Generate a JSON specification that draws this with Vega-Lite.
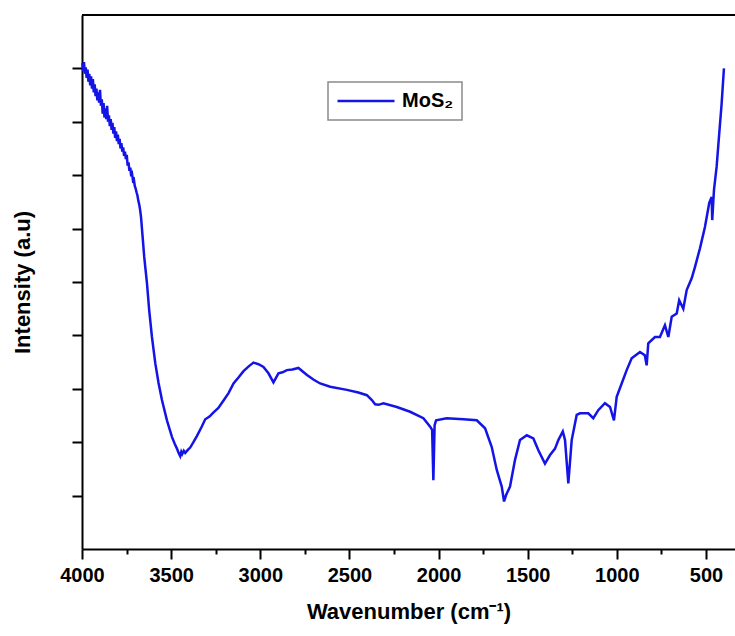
{
  "$schema": "https://vega.github.io/schema/vega-lite/v6.json",
  "width": 653,
  "height": 534,
  "autosize": {"type": "none"},
  "padding": {"left": 82, "top": 15, "right": 0, "bottom": 87},
  "background": "white",
  "config": {
    "view": {"stroke": null},
    "font": "Liberation Sans",
    "axis": {"domainColor": "black", "domainWidth": 2, "tickColor": "black", "tickWidth": 2, "grid": false,
      "labelFont": "Liberation Sans", "labelFontSize": 20, "labelFontWeight": "bold", "labelColor": "black",
      "titleFont": "Liberation Sans", "titleFontSize": 22, "titleFontWeight": "bold", "titleColor": "black"},
    "legend": {"orient": "none", "legendX": 246, "legendY": 67, "padding": 8, "strokeColor": "#8a8a8a", "strokeWidth": 1.5,
      "symbolType": "stroke", "symbolSize": 3249, "symbolStrokeWidth": 2.5, "clipHeight": 22, "labelFont": "Liberation Sans", "labelFontSize": 20,
      "labelFontWeight": "bold", "labelColor": "black", "labelOffset": 6, "title": null}
  },
  "data": {"values": [
    {"wn": 3998, "v": 9.10}, {"wn": 3993, "v": 8.95}, {"wn": 3989, "v": 9.12}, {"wn": 3984, "v": 8.90}, {"wn": 3979, "v": 9.02},
    {"wn": 3974, "v": 8.82}, {"wn": 3969, "v": 8.98}, {"wn": 3964, "v": 8.75}, {"wn": 3959, "v": 8.90}, {"wn": 3954, "v": 8.68},
    {"wn": 3949, "v": 8.85}, {"wn": 3944, "v": 8.62}, {"wn": 3939, "v": 8.80}, {"wn": 3934, "v": 8.55}, {"wn": 3929, "v": 8.70},
    {"wn": 3924, "v": 8.48}, {"wn": 3919, "v": 8.62}, {"wn": 3914, "v": 8.40}, {"wn": 3909, "v": 8.55}, {"wn": 3904, "v": 8.36},
    {"wn": 3899, "v": 8.60}, {"wn": 3894, "v": 8.30}, {"wn": 3889, "v": 8.42}, {"wn": 3884, "v": 8.15}, {"wn": 3879, "v": 8.35},
    {"wn": 3874, "v": 8.08}, {"wn": 3869, "v": 8.25}, {"wn": 3864, "v": 8.05}, {"wn": 3859, "v": 8.30}, {"wn": 3854, "v": 8.00},
    {"wn": 3849, "v": 8.12}, {"wn": 3844, "v": 7.92}, {"wn": 3839, "v": 8.05}, {"wn": 3834, "v": 7.85}, {"wn": 3829, "v": 7.98},
    {"wn": 3824, "v": 7.78}, {"wn": 3819, "v": 7.90}, {"wn": 3814, "v": 7.70}, {"wn": 3809, "v": 7.82}, {"wn": 3804, "v": 7.64},
    {"wn": 3799, "v": 7.76}, {"wn": 3794, "v": 7.58}, {"wn": 3789, "v": 7.68}, {"wn": 3784, "v": 7.50}, {"wn": 3779, "v": 7.60},
    {"wn": 3774, "v": 7.44}, {"wn": 3769, "v": 7.52}, {"wn": 3764, "v": 7.36}, {"wn": 3759, "v": 7.44}, {"wn": 3754, "v": 7.30},
    {"wn": 3749, "v": 7.38}, {"wn": 3744, "v": 7.18}, {"wn": 3739, "v": 7.24}, {"wn": 3734, "v": 7.08}, {"wn": 3729, "v": 7.14},
    {"wn": 3724, "v": 6.98}, {"wn": 3719, "v": 7.02}, {"wn": 3714, "v": 6.90}, {"wn": 3709, "v": 6.92}, {"wn": 3704, "v": 6.80},
    {"wn": 3699, "v": 6.75}, {"wn": 3694, "v": 6.68}, {"wn": 3689, "v": 6.62}, {"wn": 3684, "v": 6.52}, {"wn": 3679, "v": 6.45},
    {"wn": 3674, "v": 6.35}, {"wn": 3669, "v": 6.22}, {"wn": 3660, "v": 5.85},
    {"wn": 3651, "v": 5.47}, {"wn": 3635.6, "v": 4.98}, {"wn": 3623, "v": 4.47}, {"wn": 3607.6, "v": 3.97}, {"wn": 3589, "v": 3.48},
    {"wn": 3570.6, "v": 3.11}, {"wn": 3551.5, "v": 2.79}, {"wn": 3523.5, "v": 2.41}, {"wn": 3495.5, "v": 2.10}, {"wn": 3480, "v": 1.97},
    {"wn": 3467.4, "v": 1.88}, {"wn": 3458, "v": 1.80}, {"wn": 3449, "v": 1.74}, {"wn": 3443, "v": 1.82}, {"wn": 3437.7, "v": 1.78},
    {"wn": 3429, "v": 1.84}, {"wn": 3421, "v": 1.80}, {"wn": 3405, "v": 1.86}, {"wn": 3393, "v": 1.90}, {"wn": 3375, "v": 2.00},
    {"wn": 3355, "v": 2.12}, {"wn": 3330, "v": 2.28}, {"wn": 3308.6, "v": 2.43}, {"wn": 3285, "v": 2.48}, {"wn": 3262, "v": 2.56},
    {"wn": 3235, "v": 2.64}, {"wn": 3206, "v": 2.78}, {"wn": 3178, "v": 2.92}, {"wn": 3150, "v": 3.10}, {"wn": 3120, "v": 3.22},
    {"wn": 3094, "v": 3.33}, {"wn": 3065, "v": 3.42}, {"wn": 3038, "v": 3.49}, {"wn": 3010, "v": 3.46}, {"wn": 2982, "v": 3.41},
    {"wn": 2954, "v": 3.29}, {"wn": 2926, "v": 3.12}, {"wn": 2898, "v": 3.29}, {"wn": 2875, "v": 3.31},
    {"wn": 2851, "v": 3.35}, {"wn": 2820, "v": 3.36}, {"wn": 2786, "v": 3.39}, {"wn": 2738, "v": 3.26}, {"wn": 2700, "v": 3.17},
    {"wn": 2664, "v": 3.10}, {"wn": 2608, "v": 3.04},
    {"wn": 2514, "v": 2.98}, {"wn": 2450, "v": 2.93}, {"wn": 2402, "v": 2.88}, {"wn": 2374, "v": 2.79}, {"wn": 2355.6, "v": 2.71}, {"wn": 2337, "v": 2.70},
    {"wn": 2309, "v": 2.73}, {"wn": 2234, "v": 2.66}, {"wn": 2159.5, "v": 2.57}, {"wn": 2085, "v": 2.45}, {"wn": 2047, "v": 2.29},
    {"wn": 2036, "v": 2.23}, {"wn": 2029, "v": 1.29}, {"wn": 2022, "v": 2.32}, {"wn": 2013.7, "v": 2.41}, {"wn": 1954, "v": 2.45},
    {"wn": 1860.6, "v": 2.43}, {"wn": 1785.5, "v": 2.41}, {"wn": 1739, "v": 2.26}, {"wn": 1701.5, "v": 1.91}, {"wn": 1673.4, "v": 1.48},
    {"wn": 1645.5, "v": 1.17}, {"wn": 1632.5, "v": 0.89}, {"wn": 1621, "v": 1.01}, {"wn": 1599, "v": 1.17}, {"wn": 1571, "v": 1.67},
    {"wn": 1543, "v": 2.04}, {"wn": 1505, "v": 2.13}, {"wn": 1468, "v": 2.07}, {"wn": 1440, "v": 1.85}, {"wn": 1403, "v": 1.60},
    {"wn": 1374.5, "v": 1.76}, {"wn": 1346.5, "v": 1.88}, {"wn": 1328, "v": 2.04}, {"wn": 1303, "v": 2.20}, {"wn": 1290.5, "v": 2.04},
    {"wn": 1272, "v": 1.23}, {"wn": 1253, "v": 2.04}, {"wn": 1225, "v": 2.51}, {"wn": 1206.4, "v": 2.54}, {"wn": 1160, "v": 2.54},
    {"wn": 1132, "v": 2.45}, {"wn": 1104, "v": 2.60}, {"wn": 1066.6, "v": 2.73}, {"wn": 1038, "v": 2.66}, {"wn": 1016, "v": 2.41},
    {"wn": 1000.6, "v": 2.85}, {"wn": 972.7, "v": 3.10}, {"wn": 944.6, "v": 3.35}, {"wn": 916.6, "v": 3.57}, {"wn": 870, "v": 3.69},
    {"wn": 843, "v": 3.63}, {"wn": 832.5, "v": 3.44}, {"wn": 823.5, "v": 3.85}, {"wn": 786, "v": 3.97}, {"wn": 758, "v": 3.97},
    {"wn": 730, "v": 4.19}, {"wn": 711, "v": 3.97}, {"wn": 692, "v": 4.35}, {"wn": 664, "v": 4.41}, {"wn": 650, "v": 4.66},
    {"wn": 627, "v": 4.50}, {"wn": 608, "v": 4.85}, {"wn": 580, "v": 5.07}, {"wn": 561.7, "v": 5.28}, {"wn": 533.6, "v": 5.63},
    {"wn": 505.6, "v": 6.03}, {"wn": 481.5, "v": 6.48}, {"wn": 468, "v": 6.59}, {"wn": 464.7, "v": 6.16}, {"wn": 455, "v": 6.72},
    {"wn": 440, "v": 7.16}, {"wn": 425.5, "v": 7.78}, {"wn": 412, "v": 8.34}, {"wn": 399, "v": 9.00}
  ]},
  "layer": [
    {
      "mark": {"type": "line", "strokeWidth": 2.5, "interpolate": "linear"},
      "encoding": {
        "x": {"field": "wn", "type": "quantitative",
          "scale": {"domain": [337, 4000], "reverse": true, "nice": false, "zero": false},
          "axis": {"values": [500, 750, 1000, 1250, 1500, 1750, 2000, 2250, 2500, 2750, 3000, 3250, 3500, 3750, 4000],
            "labelExpr": "datum.value % 500 === 0 ? datum.value : ''",
            "tickSize": {"condition": {"test": "datum.value % 500 === 0", "value": 10}, "value": 5},
            "labelPadding": 6, "labelOverlap": false, "labelFlush": false, "labelBound": false,
            "title": "Wavenumber (cm⁻¹)", "titlePadding": 16}},
        "y": {"field": "v", "type": "quantitative",
          "scale": {"domain": [0, 10], "nice": false, "zero": false},
          "axis": {"values": [1, 2, 3, 4, 5, 6, 7, 8, 9], "labels": false, "tickSize": 10,
            "title": "Intensity (a.u)", "titlePadding": 37}},
        "color": {"datum": "MoS₂", "type": "nominal", "scale": {"range": ["#1414e6"]}}
      }
    },
    {
      "mark": {"type": "rule", "color": "black", "strokeWidth": 2},
      "encoding": {"y": {"datum": 10}}
    }
  ]
}
